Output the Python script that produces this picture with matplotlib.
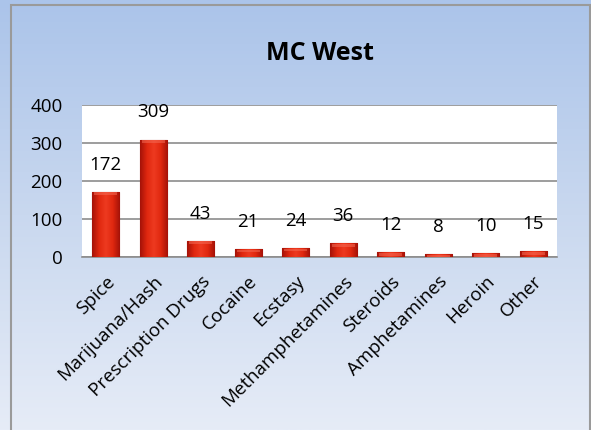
import matplotlib
matplotlib.use('Agg')
import matplotlib.pyplot as plt
import numpy as np
from matplotlib.patches import Rectangle
from matplotlib.colors import LinearSegmentedColormap

plt.rcParams['font.family'] = ['Open Sans', 'DejaVu Sans']

# data
categories = ['Spice', 'Marijuana/Hash', 'Prescription Drugs', 'Cocaine', 'Ecstasy',
              'Methamphetamines', 'Steroids', 'Amphetamines', 'Heroin', 'Other']
counts = [172, 309, 43, 21, 24, 36, 12, 8, 10, 15]
yticks = [0, 100, 200, 300, 400]
title = 'MC West'

W, H = 591, 430
fig = plt.figure(figsize=(W / 100, H / 100), dpi=100)

# background gradient (blue top -> pale bottom)
bg = fig.add_axes([0, 0, 1, 1], zorder=0)
bg_cmap = LinearSegmentedColormap.from_list('bg', ['#abc4ea', '#c9d8ef', '#e6ecf7'])
bg.imshow(np.linspace(0, 1, 256).reshape(-1, 1), aspect='auto', cmap=bg_cmap,
          extent=[0, 1, 0, 1], origin='upper')
bg.add_patch(Rectangle((11 / W, -0.01), (590 - 11) / W, 1 - 5 / H + 0.01,
                       fill=False, edgecolor='#9a9a9a', linewidth=1.5))
bg.set_xlim(0, 1)
bg.set_ylim(0, 1)
bg.axis('off')

# plot area
left, right, top, bottom = 82, 557, 105, 257
ax = fig.add_axes([left / W, 1 - bottom / H, (right - left) / W, (bottom - top) / H], zorder=1)
ax.set_facecolor('white')

x = np.arange(len(categories))
bars = ax.bar(x, counts, width=0.57, color='#d41c0a', edgecolor='#8e1206',
              linewidth=0.8, zorder=3)

# shading inside bars
bar_cmap = LinearSegmentedColormap.from_list('bar', ['#a51208', '#e0280f', '#ee3a20', '#e0280f', '#a51208'])
grad = np.linspace(0, 1, 64).reshape(1, -1)
for b in bars:
    x0, y0 = b.get_x(), b.get_y()
    w, h = b.get_width(), b.get_height()
    im = ax.imshow(grad, aspect='auto', cmap=bar_cmap, extent=[x0, x0 + w, y0, y0 + h],
                   zorder=3.5)
    im.set_clip_path(b)
    # lighter top cap
    cap = min(h, 9)
    ax.add_patch(Rectangle((x0 + w * 0.08, y0 + h - cap), w * 0.84, cap * 0.8,
                           facecolor='#f46a55', edgecolor='none', alpha=0.55, zorder=4))

for xi, v in zip(x, counts):
    ax.annotate(str(v), (xi, v), xytext=(0, 19.5), textcoords='offset points',
                ha='center', va='center', fontsize=13.5, color='black', zorder=5)

ax.set_xlim(-0.5, len(categories) - 0.5)
ax.set_ylim(0, 400)
ax.set_yticks(yticks)
ax.set_yticklabels([str(t) for t in yticks], fontsize=13.5)
ax.yaxis.grid(True, color='#8c8c8c', linewidth=1.2, zorder=0)
ax.set_axisbelow(True)
for s in ['top', 'right', 'left']:
    ax.spines[s].set_visible(False)
ax.spines['bottom'].set_color('#8c8c8c')
ax.spines['bottom'].set_linewidth(1.2)
ax.tick_params(axis='y', length=0, pad=14)
ax.tick_params(axis='x', length=0, pad=11)
ax.set_xticks(x)
ax.set_xticklabels(categories, rotation=45, ha='right', rotation_mode='anchor', fontsize=13.5)

fig.text(((left + right) / 2 + 0) / W, 1 - 53 / H, title, ha='center', va='center',
         fontsize=18, fontweight='bold')

fig.savefig('out.png', dpi=100)
